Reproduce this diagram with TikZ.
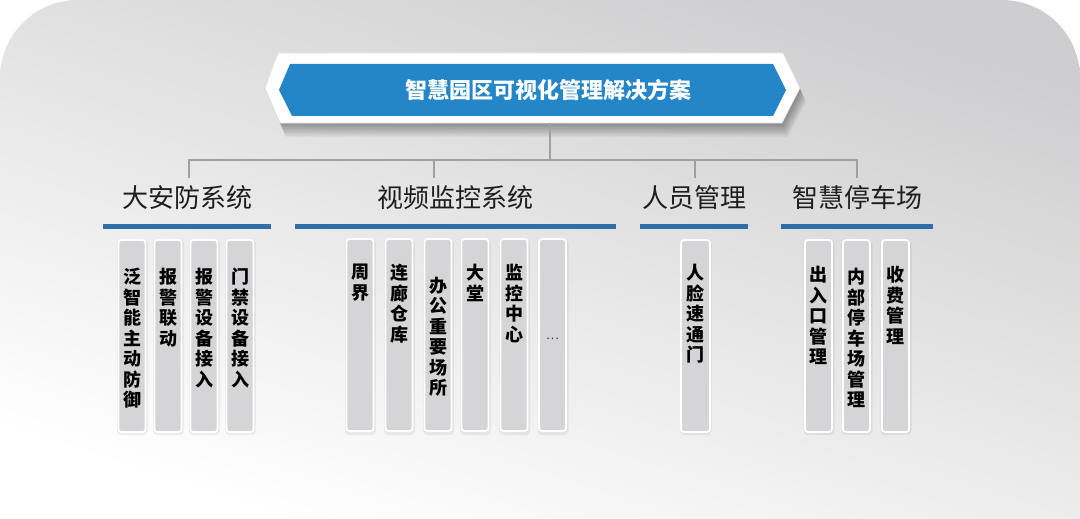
\documentclass[tikz,border=0pt]{standalone}
\usepackage{fontspec}
\newfontfamily\cjk{Noto Sans CJK SC}
\definecolor{bgtop}{RGB}{206,206,208}
\definecolor{ttlblue}{RGB}{36,134,199}
\definecolor{linblue}{RGB}{48,110,168}
\definecolor{barg}{RGB}{213,213,215}
\definecolor{conng}{RGB}{160,160,162}
\definecolor{headk}{RGB}{30,30,30}
\tikzset{
  conn/.style={draw=conng, line width=1.8pt},
  bluebar/.style={draw=linblue, line width=5pt},
  headtxt/.style={font=\cjk\fontsize{26}{26}\selectfont, text=headk, inner sep=0pt},
  colbar/.style={rectangle, rounded corners=3pt, fill=barg, draw=white, line width=1.8pt,
     minimum width=27pt, minimum height=192pt, inner sep=0pt},
  coltxt/.style={font=\cjk\bfseries\fontsize{18}{20.5}\selectfont, text=black, align=center, inner sep=0pt, anchor=north},
  coltxtc/.style={font=\cjk\bfseries\fontsize{18}{20.5}\selectfont, text=black, align=center, inner sep=0pt, anchor=center},
}
\begin{document}
\begin{tikzpicture}[x=1pt,y=-1pt]
\useasboundingbox (0,0) rectangle (1080,519);
\fill[white] (0,0) rectangle (1080,519);
% background panel
\shade[top color=bgtop, bottom color=white, shading angle=-18]
  (0,519) [rounded corners=78pt] -- (0,0) -- (1080,0) [sharp corners] -- (1080,519) -- cycle;
% banner shadow
\foreach \i in {1,...,10}{
  \fill[black, opacity=0.04] ([xshift=0.6*\i pt, yshift=-1.4*\i pt]265,88) -- ([xshift=0.6*\i pt, yshift=-1.4*\i pt]278,53)
    -- ([xshift=0.6*\i pt, yshift=-1.4*\i pt]783,53) -- ([xshift=0.6*\i pt, yshift=-1.4*\i pt]800,88)
    -- ([xshift=0.6*\i pt, yshift=-1.4*\i pt]782,123) -- ([xshift=0.6*\i pt, yshift=-1.4*\i pt]280,123) -- cycle;
}
% banner outer and inner
\filldraw[fill=white, draw=black!12, line width=0.6pt] (265,88) -- (278,53) -- (783,53) -- (800,88) -- (782,123) -- (280,123) -- cycle;
\fill[ttlblue] (279,90) -- (290,64) -- (773,64) -- (786,90) -- (773,116) -- (292,116) -- cycle;
\node[font=\cjk\bfseries\fontsize{22}{22}\selectfont, text=white, inner sep=0pt] (title) at (548,90) {智慧园区可视化管理解决方案};
% connectors
\coordinate (tb) at (550,123);
\coordinate (j0) at (550,160);
\coordinate (j1) at (189,160);
\coordinate (j2) at (434,160);
\coordinate (j3) at (695,160);
\coordinate (j4) at (857,160);
\coordinate (d1) at (189,178);
\coordinate (d2) at (434,178);
\coordinate (d3) at (695,178);
\coordinate (d4) at (857,178);
\draw[conn] (tb) -- (j0);
\draw[conn] (d1) -- (j1) -- (j4) -- (d4);
\draw[conn] (j2) -- (d2);
\draw[conn] (j3) -- (d3);
% headings
\node[headtxt] (h1) at (187,198) {大安防系统};
\node[headtxt] (h2) at (455,198) {视频监控系统};
\node[headtxt] (h3) at (694,198) {人员管理};
\node[headtxt] (h4) at (857,198) {智慧停车场};
% blue rules
\draw[bluebar] (103,226) -- (271,226);
\draw[bluebar] (295,226) -- (616,226);
\draw[bluebar] (640,226) -- (748,226);
\draw[bluebar] (781,226) -- (933,226);
% bars shadows
\foreach \x in {132,168,204,240,360,399,438,475,514,552.5,695.5,818.5,856.5,895.5}{
  \fill[black, opacity=0.06, rounded corners=4pt] (\x-15,240) rectangle (\x+16,435);
}
% group 1
\node[colbar] (a1) at (132,336) {};
\node[colbar] (a2) at (168,336) {};
\node[colbar] (a3) at (204,336) {};
\node[colbar] (a4) at (240,336) {};
\node[coltxt] (ta1) at (132,268) {泛\\智\\能\\主\\动\\防\\御};
\node[coltxt] (ta2) at (168,268) {报\\警\\联\\动};
\node[coltxt] (ta3) at (204,268) {报\\警\\设\\备\\接\\入};
\node[coltxt] (ta4) at (240,268) {门\\禁\\设\\备\\接\\入};
% group 2
\node[colbar] (b1) at (360,335) {};
\node[colbar] (b2) at (399,335) {};
\node[colbar] (b3) at (438,335) {};
\node[colbar] (b4) at (475,335) {};
\node[colbar] (b5) at (514,335) {};
\node[colbar] (b6) at (552.5,335) {};
\node[coltxt] (tb1) at (360,264) {周\\界};
\node[coltxt] (tb2) at (399,264) {连\\廊\\仓\\库};
\node[coltxtc] (tb3) at (438,337) {办\\公\\重\\要\\场\\所};
\node[coltxt] (tb4) at (475,264) {大\\堂};
\node[coltxt] (tb5) at (514,264) {监\\控\\中\\心};
\node[font=\cjk\fontsize{12}{12}\selectfont, text=black!75, inner sep=0pt] (tb6) at (552.5,339) {…};
% group 3
\node[colbar, minimum width=29pt] (c1) at (695.5,336) {};
\node[coltxt] (tc1) at (695.5,264) {人\\脸\\速\\通\\门};
% group 4
\node[colbar] (e1) at (818.5,336) {};
\node[colbar] (e2) at (856.5,336) {};
\node[colbar] (e3) at (895.5,336) {};
\node[coltxt] (te1) at (818.5,266) {出\\入\\口\\管\\理};
\node[coltxt] (te2) at (856.5,268) {内\\部\\停\\车\\场\\管\\理};
\node[coltxt] (te3) at (895.5,266) {收\\费\\管\\理};
\end{tikzpicture}
\end{document}
